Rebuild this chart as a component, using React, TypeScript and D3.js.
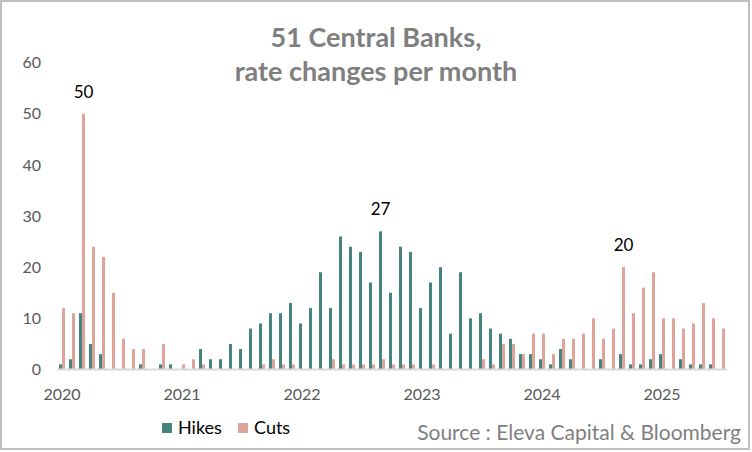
import React from "react";
import * as d3 from "d3";

const months: string[] = [];
for (let y = 2020; y <= 2025; y++) {
  for (let m = 1; m <= 12; m++) {
    if (y === 2025 && m > 7) break;
    months.push(`${y}-${String(m).padStart(2, "0")}`);
  }
}

const hikes = [
  1, 2, 11, 5, 3, 0, 0, 0, 1, 0, 1, 1,
  0, 0, 4, 2, 2, 5, 4, 8, 9, 11, 11, 13,
  9, 12, 19, 12, 26, 24, 23, 17, 27, 15, 24, 23,
  12, 17, 20, 7, 19, 10, 11, 8, 7, 6, 3, 3,
  2, 1, 4, 2, 0, 0, 2, 0, 3, 1, 1, 2,
  3, 0, 2, 1, 1, 1, 0,
];
const cuts = [
  12, 11, 50, 24, 22, 15, 6, 4, 4, 0, 5, 0,
  1, 2, 1, 0, 0, 0, 0, 0, 1, 2, 1, 1,
  0, 0, 0, 2, 1, 1, 1, 1, 2, 1, 1, 1,
  0, 1, 0, 0, 0, 0, 2, 1, 5, 5, 3, 7,
  7, 3, 6, 6, 7, 10, 6, 8, 20, 11, 16, 19,
  10, 10, 8, 9, 13, 10, 8,
];
const yTicks = [0, 10, 20, 30, 40, 50, 60];
const yearLabels = ["2020", "2021", "2022", "2023", "2024", "2025"];
const series = ["Hikes", "Cuts"];
const colors = ["#45847F", "#DEA39B"];
const annotated = [
  { series: "Cuts", month: "2020-03" },
  { series: "Hikes", month: "2022-09" },
  { series: "Cuts", month: "2024-09" },
];

const FONT = "Lato, 'Open Sans', sans-serif";

export default function App() {
  const W = 752;
  const H = 452;
  const x = d3
    .scaleBand<string>()
    .domain(months)
    .range([57, 727])
    .paddingInner(0.4)
    .paddingOuter(0.2);
  const xs = d3.scaleBand<string>().domain(series).range([0, x.bandwidth()]);
  const y = d3.scaleLinear().domain([0, 60]).range([369.5, 62.5]);
  const color = d3.scaleOrdinal<string, string>().domain(series).range(colors);
  const valuesFor = (s: string) => (s === "Hikes" ? hikes : cuts);

  return (
    <svg
      width={W}
      height={H}
      style={{ position: "fixed", left: 0, top: 0, background: "#fff" }}
      fontFamily={FONT}
    >
      <rect x={0} y={0} width={W} height={H} fill="#fff" />
      <rect x={1} y={1} width={748} height={448} fill="none" stroke="#bfbfbf" strokeWidth={2} />
      <text x={376} y={47} textAnchor="middle" fontSize={27} fontWeight={700} fill="#7f7f7f">
        51 Central Banks,
      </text>
      <text x={376} y={81} textAnchor="middle" fontSize={27} fontWeight={700} fill="#7f7f7f">
        rate changes per month
      </text>
      {yTicks.map((t) => (
        <text key={t} x={41} y={y(t)} dy="0.36em" textAnchor="end" fontSize={16} fill="#595959">
          {t}
        </text>
      ))}
      {series.map((s) =>
        valuesFor(s).map((v, i) => (
          <rect
            key={s + i}
            x={(x(months[i]) as number) + (xs(s) as number)}
            y={y(v)}
            width={xs.bandwidth()}
            height={Math.max(0, y(0) - y(v))}
            fill={color(s)}
          />
        ))
      )}
      <line x1={57} x2={727} y1={y(0)} y2={y(0)} stroke="#d9d9d9" strokeWidth={2} />
      {yearLabels.map((lab, k) => {
        const m = months[k * 12];
        return (
          <text
            key={lab}
            x={(x(m) as number) + x.bandwidth() / 2}
            y={400}
            textAnchor="middle"
            fontSize={16}
            fill="#595959"
          >
            {lab}
          </text>
        );
      })}
      {annotated.map((a) => {
        const i = months.indexOf(a.month);
        const v = valuesFor(a.series)[i];
        return (
          <text
            key={a.month}
            x={(x(a.month) as number) + (xs(a.series) as number) + xs.bandwidth() / 2}
            y={y(v) - 16}
            textAnchor="middle"
            fontSize={17}
            fill="#000"
          >
            {v}
          </text>
        );
      })}
      {series.map((s, k) => {
        const lx = k === 0 ? 162 : 238;
        return (
          <g key={s}>
            <rect x={lx} y={423} width={10} height={10} fill={color(s)} />
            <text x={lx + 16} y={434} fontSize={18} fill="#000">
              {s}
            </text>
          </g>
        );
      })}
      <text x={741} y={440} textAnchor="end" fontSize={21} fill="#7f7f7f">
        Source : Eleva Capital &amp; Bloomberg
      </text>
    </svg>
  );
}
